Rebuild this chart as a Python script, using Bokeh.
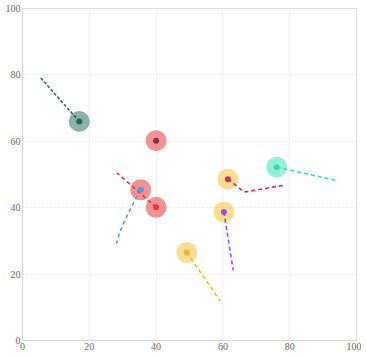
from bokeh.plotting import figure
from bokeh.models import ColumnDataSource, Range1d, FixedTicker
from bokeh.embed import file_html
from bokeh.resources import INLINE

# Agents: large translucent circle + small centre dot
circle_x = [17.0, 40.0, 35.4, 40.0, 61.5, 76.1, 60.3, 49.2]
circle_y = [66.0, 60.2, 45.4, 40.1, 48.6, 52.2, 38.7, 26.5]
circle_colors = ["#2f6f5e", "#e8383d", "#e8383d", "#e8383d",
                 "#f7c33c", "#3ee0b5", "#f7c33c", "#f7c33c"]
dot_colors = ["#2a6352", "#7e3342", "#5b9be0", "#e0383e",
              "#c8334f", "#3ddbb5", "#a24be0", "#f2b437"]

# Trajectories (dashed)
traj_names = ["green", "blue", "red", "crimson", "teal", "purple", "orange"]
traj_x = [
    [17.0, 5.1],
    [35.4, 33.6, 30.6, 29.1, 28.1],
    [40.0, 28.3],
    [61.5, 66.4, 77.9],
    [76.1, 94.1],
    [60.3, 63.1],
    [49.2, 59.3],
]
traj_y = [
    [66.0, 79.5],
    [45.4, 42.2, 36.1, 32.6, 29.1],
    [40.1, 50.5],
    [48.6, 44.7, 46.7],
    [52.2, 48.2],
    [38.7, 21.1],
    [26.5, 11.8],
]
traj_colors = ["#2a6352", "#5b9be0", "#e0383e", "#c8334f", "#3ddbb5", "#a24be0", "#f5b82e"]
traj_dash = ["3 2", "4 3", "4 3", "4 3", "4 3", "4 3", "4 3"]

ticks = [0, 20, 40, 60, 80, 100]

p = figure(width=361, height=352, output_backend="svg", toolbar_location=None,
           x_range=Range1d(0, 100), y_range=Range1d(0, 100),
           min_border_left=22, min_border_right=5, min_border_top=8, min_border_bottom=12)

p.background_fill_color = "white"
p.outline_line_color = "#dddddd"
p.outline_line_width = 1

for ax in (p.xaxis, p.yaxis):
    ax.ticker = FixedTicker(ticks=ticks)
    ax.major_tick_line_color = None
    ax.major_tick_out = 0
    ax.major_tick_in = 0
    ax.minor_tick_line_color = None
    ax.minor_tick_out = 0
    ax.axis_line_color = "#d5d5d5"
    ax.major_label_text_font = "Liberation Serif"
    ax.major_label_text_font_size = "10px"
    ax.major_label_text_color = "#666666"
    ax.major_label_standoff = 2

p.grid.grid_line_color = "#e8e8e8"
p.grid.grid_line_dash = "2 2"
p.grid.grid_line_width = 1

src = ColumnDataSource(dict(x=circle_x, y=circle_y, c=circle_colors, d=dot_colors))
p.scatter("x", "y", source=src, size=21, fill_color="c", fill_alpha=0.55,
          line_color=None)

for xs, ys, col, dash in zip(traj_x, traj_y, traj_colors, traj_dash):
    p.line(xs, ys, line_color=col, line_width=1.6, line_dash=dash)

p.scatter("x", "y", source=src, size=6, fill_color="d", line_color=None)

open("out.html", "w").write(file_html(p, INLINE))
